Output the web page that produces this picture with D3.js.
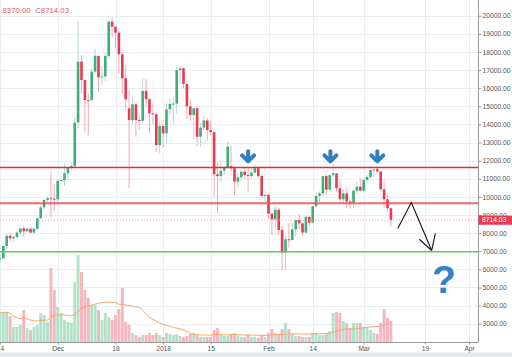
<!DOCTYPE html>
<html><head><meta charset="utf-8">
<script src="https://cdn.jsdelivr.net/npm/d3@7"></script>
<style>
html,body{margin:0;padding:0;background:#fff;}
svg{display:block;font-family:"Liberation Sans",Arial,sans-serif;}
</style></head><body>
<svg id="c" width="512" height="357"></svg>
<script>
// ---------------- DATA ----------------
const dates = [
"2017-11-14","2017-11-15","2017-11-16","2017-11-17","2017-11-18","2017-11-19","2017-11-20","2017-11-21","2017-11-22","2017-11-23","2017-11-24","2017-11-25","2017-11-26","2017-11-27","2017-11-28","2017-11-29","2017-11-30",
"2017-12-01","2017-12-02","2017-12-03","2017-12-04","2017-12-05","2017-12-06","2017-12-07","2017-12-08","2017-12-09","2017-12-10","2017-12-11","2017-12-12","2017-12-13","2017-12-14","2017-12-15","2017-12-16","2017-12-17","2017-12-18","2017-12-19","2017-12-20","2017-12-21","2017-12-22","2017-12-23","2017-12-24","2017-12-25","2017-12-26","2017-12-27","2017-12-28","2017-12-29","2017-12-30","2017-12-31",
"2018-01-01","2018-01-02","2018-01-03","2018-01-04","2018-01-05","2018-01-06","2018-01-07","2018-01-08","2018-01-09","2018-01-10","2018-01-11","2018-01-12","2018-01-13","2018-01-14","2018-01-15","2018-01-16","2018-01-17","2018-01-18","2018-01-19","2018-01-20","2018-01-21","2018-01-22","2018-01-23","2018-01-24","2018-01-25","2018-01-26","2018-01-27","2018-01-28","2018-01-29","2018-01-30","2018-01-31",
"2018-02-01","2018-02-02","2018-02-03","2018-02-04","2018-02-05","2018-02-06","2018-02-07","2018-02-08","2018-02-09","2018-02-10","2018-02-11","2018-02-12","2018-02-13","2018-02-14","2018-02-15","2018-02-16","2018-02-17","2018-02-18","2018-02-19","2018-02-20","2018-02-21","2018-02-22","2018-02-23","2018-02-24","2018-02-25","2018-02-26","2018-02-27","2018-02-28",
"2018-03-01","2018-03-02","2018-03-03","2018-03-04","2018-03-05","2018-03-06","2018-03-07","2018-03-08","2018-03-09"];

const opens = [
6560,6610,7290,7850,7710,7790,8030,8260,8100,8240,8030,8240,8820,9420,9830,9920,9900,
9870,10880,10930,11300,11600,11700,14100,17460,16450,15350,15340,16910,17780,16600,16650,17780,19670,19390,19060,17870,16550,14890,14240,15110,14240,14200,15850,15390,14610,14560,12860,
13910,13510,14830,15130,15150,17000,17100,16230,15000,14520,14890,13320,13820,14210,13690,13580,11250,11150,11450,11630,11700,11580,10840,11080,11390,11210,11150,11340,11580,11150,10050,
10110,9070,8760,9290,8170,6920,7660,7620,8210,8720,8540,8030,8900,8580,9490,10050,10190,11150,10400,11200,11300,10475,9865,10190,9740,9645,10340,10560,
10340,10930,11100,11480,11520,11400,10420,9865,9370];
const highs = [
6890,7330,7960,8000,7850,8100,8300,8370,8300,8280,8350,8850,9550,9850,10050,11400,10700,
11000,11150,11850,11650,11900,14370,19700,17830,16500,15700,17100,18150,17800,17200,17950,19700,19890,19400,19100,17990,17300,15900,15500,15200,14500,16550,16500,15450,15100,14600,14100,
14000,15200,15450,15500,17150,17250,17100,16300,15400,14900,14950,14100,14500,14350,14200,13600,11900,12000,11700,13050,12800,11650,11300,11500,11650,11600,11600,11800,11650,11250,10350,
10200,9100,9500,9400,8400,7850,8550,8600,8750,9050,8560,8950,8950,9500,10200,10300,11150,11250,11250,11800,11300,10900,10400,10500,9850,10450,10850,11050,
11050,11200,11550,11550,11700,11400,10900,10100,9420];
const lows = [
6420,6600,7120,7550,7500,7700,7950,7800,8050,8000,7950,8150,8750,9300,9700,8900,9200,
9700,10700,10600,10950,11450,11600,13800,15700,13600,13400,15300,16800,15800,16150,16400,17600,18800,18200,16800,15700,14800,10470,14000,13320,13700,14100,15000,13500,14000,12500,12400,
12750,13000,14600,14000,14600,16200,16000,14300,14200,13200,12800,12800,13700,13100,13400,10000,9100,10800,11200,11550,11400,10100,10500,10900,11000,10300,11000,11300,11050,9950,9700,
8800,7900,8200,7900,6000,5950,7200,7600,7800,8200,7850,8000,8400,8550,9400,9700,10050,10100,10300,11100,10300,9750,9600,9400,9350,9400,10150,10300,
10250,10800,11000,11100,11400,10350,9400,9180,8370];
const closes = [
6610,7290,7850,7710,7790,8030,8260,8100,8240,8030,8240,8820,9420,9830,9920,9900,9870,
10880,10930,11300,11600,11700,14100,17460,16450,15350,15340,16910,17780,16600,16650,17780,19670,19390,19060,17870,16550,15390,14240,15110,14240,14200,15850,15390,14610,14560,12860,13910,
13510,14830,15130,15150,17000,17100,16230,15000,14520,14890,13320,13820,14210,13690,13580,11250,11150,11450,11630,12770,11580,10840,11080,11390,11210,11150,11340,11580,11150,10050,10110,
9070,8760,9290,8170,6920,7660,7620,8210,8720,8540,8030,8900,8580,9490,10050,10190,11150,10400,11200,11300,10475,9865,10190,9740,9645,10340,10560,10340,
10930,11100,11480,11520,11400,10420,9865,9370,8714.03];
const volumes = [
14500,15000,15000,13000,7500,7500,8500,16000,7000,6000,7500,8500,14500,13500,10000,37000,26000,
17500,14500,11000,10000,9500,30000,43500,35000,26000,22000,18500,18500,16000,11000,14500,12500,11000,13500,16500,27000,10000,8500,4500,3500,2500,3500,3500,4500,3500,4500,3500,
2500,4500,4000,3500,4000,3000,2500,3000,4000,4500,3500,2500,2500,2500,2500,6000,7000,3500,3000,3000,4000,4500,3000,2500,2500,3500,2500,2500,2000,3500,2500,
4500,6500,4500,4000,6500,9500,6500,4000,3000,3000,2500,2500,2500,4500,4500,3500,3500,4000,5500,14500,15000,14500,10500,9500,7000,9500,9500,9500,
7500,7500,6000,4500,4000,9500,16500,12000,10500];

const priceTicks = [3000,4000,5000,6000,7000,8000,9000,10000,11000,12000,13000,14000,15000,16000,17000,18000,19000,20000];
const dateTicks = ["2017-11-14","2017-12-01","2017-12-18","2018-01-01","2018-01-15","2018-02-01","2018-02-14","2018-03-01","2018-03-19","2018-04-01"];
const dateTickLabels = ["14","Dec","18","2018","15","Feb","14","Mar","19","Apr"];

const levelPrices = [11620, 9650, 6975];
const arrowDates = ["2018-01-26","2018-02-19T05:00Z","2018-03-05"];
const arrowTopPrice = 12630, arrowTipPrice = 11845;
const pathDates = ["2018-03-11","2018-03-15","2018-03-21"];
const pathPrices = [8256, 9690, 7042];
const headDates = ["2018-03-17T08:30Z","2018-03-22T01:30Z"];
const headPrices = [7660, 7991];
const questionDate = "2018-03-24T14:30Z", questionPrice = 4700;
const maPeriod = 20;

// ---------------- CHART ----------------
const svg = d3.select("#c");
const plotW = 478, plotH = 342;
const x = d3.scaleUtc().domain([new Date("2017-12-01"), new Date("2018-04-01")]).range([57.7, 469.1]);
const y = d3.scaleLinear().domain([3000, 20000]).range([323.7, 15.7]);
const yVol = d3.scaleLinear().domain([0, 43500]).range([342, 255]);

const data = dates.map((d,i)=>({date:new Date(d), o:opens[i], h:highs[i], l:lows[i], c:closes[i], v:volumes[i]}));
data.forEach((d,i)=>{
  const w = volumes.slice(Math.max(0,i-maPeriod+1), i+1);
  d.ma = d3.mean(w);
});

svg.append("rect").attr("width",512).attr("height",357).attr("fill","#fff");
svg.append("rect").attr("x",0).attr("y",352.5).attr("width",512).attr("height",5).attr("fill","#e6e9ec");

svg.append("defs").append("clipPath").attr("id","plot")
  .append("rect").attr("x",0).attr("y",0).attr("width",plotW).attr("height",plotH);

const plot = svg.append("g").attr("clip-path","url(#plot)");

// grid
plot.append("g").selectAll("line").data(priceTicks).join("line")
  .attr("x1",0).attr("x2",plotW)
  .attr("y1",d=>Math.round(y(d))+0.5).attr("y2",d=>Math.round(y(d))+0.5)
  .attr("stroke","#e8eef2").attr("stroke-width",1);
plot.append("g").selectAll("line").data(dateTicks).join("line")
  .attr("y1",0).attr("y2",plotH)
  .attr("x1",d=>Math.round(x(new Date(d)))+0.5).attr("x2",d=>Math.round(x(new Date(d)))+0.5)
  .attr("stroke","#e8eef2").attr("stroke-width",1);

// volume
plot.append("g").selectAll("rect").data(data).join("rect")
  .attr("x",d=>x(d.date)-1.45).attr("width",2.9)
  .attr("y",d=>yVol(d.v)).attr("height",d=>342-yVol(d.v))
  .attr("fill",d=>d.c>=d.o?"#b3e2ca":"#f7b5be");
plot.append("path").datum(data)
  .attr("d",d3.line().x(d=>x(d.date)).y(d=>yVol(d.ma)).curve(d3.curveLinear))
  .attr("fill","none").attr("stroke","#f6a66c").attr("stroke-width",1);

// candles
const cg = plot.append("g");
cg.selectAll("line").data(data).join("line")
  .attr("x1",d=>x(d.date)).attr("x2",d=>x(d.date))
  .attr("y1",d=>y(d.h)).attr("y2",d=>y(d.l))
  .attr("stroke",d=>d.c>=d.o?"#bcd3d8":"#f4a9b3").attr("stroke-width",1);
cg.selectAll("rect").data(data).join("rect")
  .attr("x",d=>x(d.date)-1.3).attr("width",2.6)
  .attr("y",d=>y(Math.max(d.o,d.c)))
  .attr("height",d=>Math.max(1,Math.abs(y(d.o)-y(d.c))))
  .attr("fill",d=>d.c>=d.o?"#3fae78":"#e93a50");

// last price dotted line
const last = data[data.length-1];
plot.append("line").attr("x1",0).attr("x2",plotW)
  .attr("y1",y(last.c)).attr("y2",y(last.c))
  .attr("stroke","#f3a0aa").attr("stroke-width",1).attr("stroke-dasharray","1,2");

// level lines
const levelStyles = [
  {stroke:"#e62a32", w:1.5, op:1},
  {stroke:"#ee4f55", w:2, op:0.85},
  {stroke:"#52d152", w:1.5, op:1}
];
plot.append("g").selectAll("line").data(levelPrices).join("line")
  .attr("x1",0).attr("x2",plotW)
  .attr("y1",d=>y(d)).attr("y2",d=>y(d))
  .attr("stroke",(d,i)=>levelStyles[i].stroke)
  .attr("stroke-width",(d,i)=>levelStyles[i].w)
  .attr("opacity",(d,i)=>levelStyles[i].op);

// blue arrows
const ag = plot.append("g").attr("fill","none").attr("stroke","#2f7fc1")
  .attr("stroke-width",4).attr("stroke-linecap","round").attr("stroke-linejoin","round");
arrowDates.forEach(ds=>{
  const cx = x(new Date(ds)), yt = y(arrowTopPrice), yb = y(arrowTipPrice);
  ag.append("path").attr("d",`M${cx},${yt+2}L${cx},${yb-3}M${cx-6},${yb-8}L${cx},${yb-2}L${cx+6},${yb-8}`);
});

// black zigzag arrow
const zz = pathDates.map((d,i)=>[x(new Date(d)), y(pathPrices[i])]);
plot.append("path").attr("d",d3.line()(zz))
  .attr("fill","none").attr("stroke","#111").attr("stroke-width",1.1);
const tip = zz[zz.length-1];
headDates.forEach((d,i)=>{
  plot.append("line").attr("x1",x(new Date(d))).attr("y1",y(headPrices[i]))
    .attr("x2",tip[0]).attr("y2",tip[1]).attr("stroke","#111").attr("stroke-width",1.1);
});

// question mark
plot.append("text").attr("x",x(new Date(questionDate))).attr("y",y(questionPrice))
  .attr("text-anchor","middle").attr("font-size",39).attr("font-weight","bold")
  .attr("fill","#3181c5").text("?");

// axes
const yAxis = d3.axisRight(y).tickValues(priceTicks).tickFormat(d=>d.toFixed(2)).tickSize(3).tickPadding(1);
const ya = svg.append("g").attr("transform",`translate(${plotW+0.5},0)`).call(yAxis);
ya.select(".domain").remove();
ya.selectAll("line").attr("stroke","#9a9a9a");
ya.selectAll("text").attr("font-size",6.7).attr("fill","#555").attr("font-family","Liberation Sans, Arial, sans-serif");

const xAxis = d3.axisBottom(x).tickValues(dateTicks.map(d=>new Date(d)))
  .tickFormat((d,i)=>dateTickLabels[i]).tickSize(2).tickPadding(2);
const xa = svg.append("g").attr("transform",`translate(0,${plotH+0.5})`).call(xAxis);
xa.select(".domain").remove();
xa.selectAll("line").attr("stroke","#9a9a9a");
xa.selectAll("text").attr("font-size",6.7).attr("fill","#555").attr("font-family","Liberation Sans, Arial, sans-serif");

svg.append("line").attr("x1",plotW+0.5).attr("x2",plotW+0.5).attr("y1",0).attr("y2",plotH+0.5)
  .attr("stroke","#9a9a9a").attr("stroke-width",1);
svg.append("line").attr("x1",0).attr("x2",plotW+0.5).attr("y1",plotH+0.5).attr("y2",plotH+0.5)
  .attr("stroke","#9a9a9a").attr("stroke-width",1);

// last price label
const ly = y(last.c);
svg.append("rect").attr("x",plotW+0.5).attr("y",ly-4.6).attr("width",512-plotW).attr("height",9.2).attr("fill","#ea3b50");
svg.append("text").attr("x",plotW+4).attr("y",ly).attr("dy","0.34em")
  .attr("font-size",6.7).attr("fill","#fff").text(last.c.toFixed(2));

// legend
const lg = svg.append("text").attr("x",2.5).attr("y",13).attr("font-size",7.8);
lg.append("tspan").attr("fill","#e85364").text(last.l.toFixed(2));
lg.append("tspan").attr("fill","#888").attr("dx",4.5).text("C");
lg.append("tspan").attr("fill","#e85364").text(last.c.toFixed(2));
</script>
</body></html>
